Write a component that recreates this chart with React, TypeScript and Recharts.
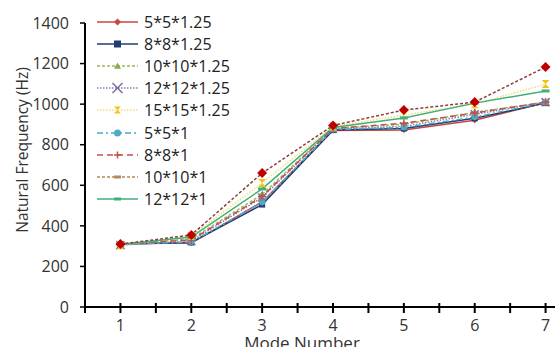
import { Line, LineChart, XAxis, YAxis } from "recharts";

const modes = [1, 2, 3, 4, 5, 6, 7];
const s5x5x125 = [312, 315, 518, 870, 872, 921, 1008];
const s8x8x125 = [310, 318, 505, 872, 880, 930, 1005];
const s10x10x125 = [310, 335, 555, 882, 900, 960, 1010];
const s12x12x125 = [305, 325, 540, 878, 890, 950, 1010];
const s15x15x125 = [305, 350, 611, 890, 946, 1000, 1099];
const s5x5x1 = [308, 320, 515, 875, 885, 936, 1008];
const s8x8x1 = [312, 330, 545, 880, 906, 956, 1010];
const s10x10x1 = [310, 355, 660, 895, 971, 1010, 1183];
const s12x12x1 = [308, 345, 582, 885, 932, 1005, 1065];

const xTicks = [0.5, 1, 1.5, 2, 2.5, 3, 3.5, 4, 4.5, 5, 5.5, 6, 6.5, 7, 7.5];
const yTicks = [0, 200, 400, 600, 800, 1000, 1200, 1400];

const FONT = "'Open Sans', sans-serif";

type Kind = "diamond" | "square" | "triangle" | "x" | "hourglass" | "circle" | "plus" | "dash";

interface Spec {
  key: string;
  name: string;
  values: number[];
  color: string;
  legendColor: string;
  dash?: string;
  kind: Kind;
  plotKind: Kind;
  plotColor: string;
  size: number;
}

// legend order
const series: Spec[] = [
  { key: "a", name: "5*5*1.25", values: s5x5x125, color: "#C8463F", legendColor: "#C8463F", kind: "diamond", plotKind: "diamond", plotColor: "#C8463F", size: 3 },
  { key: "b", name: "8*8*1.25", values: s8x8x125, color: "#1F3C73", legendColor: "#1F3C73", kind: "square", plotKind: "square", plotColor: "#1F3C73", size: 3 },
  { key: "c", name: "10*10*1.25", values: s10x10x125, color: "#9BBB59", legendColor: "#9BBB59", dash: "3 2", kind: "triangle", plotKind: "triangle", plotColor: "#8AA84E", size: 4 },
  { key: "d", name: "12*12*1.25", values: s12x12x125, color: "#8C7DB0", legendColor: "#8C7DB0", dash: "1.5 1.5", kind: "x", plotKind: "x", plotColor: "#7A6A9E", size: 4 },
  { key: "e", name: "15*15*1.25", values: s15x15x125, color: "#F2DC7A", legendColor: "#F2DC7A", dash: "1.5 1.5", kind: "hourglass", plotKind: "hourglass", plotColor: "#F2C313", size: 4 },
  { key: "f", name: "5*5*1", values: s5x5x1, color: "#4BACC6", legendColor: "#4BACC6", dash: "6 3 2 3", kind: "circle", plotKind: "circle", plotColor: "#4BACC6", size: 3 },
  { key: "g", name: "8*8*1", values: s8x8x1, color: "#C0504D", legendColor: "#C0504D", dash: "6 4", kind: "plus", plotKind: "plus", plotColor: "#C0504D", size: 4 },
  { key: "h", name: "10*10*1", values: s10x10x1, color: "#8E3F3A", legendColor: "#B08A5A", dash: "3 2", kind: "dash", plotKind: "diamond", plotColor: "#C00000", size: 5 },
  { key: "i", name: "12*12*1", values: s12x12x1, color: "#3FB07A", legendColor: "#3FB07A", kind: "dash", plotKind: "dash", plotColor: "#3FB07A", size: 4 },
];

// draw order: top series last
const drawOrder = ["a", "b", "c", "d", "f", "g", "e", "i", "h"];

const data = modes.map((m, i) => {
  const row: Record<string, number> = { mode: m };
  series.forEach((s) => {
    row[s.key] = s.values[i];
  });
  return row;
});

function marker(kind: Kind, cx: number, cy: number, color: string, r: number) {
  switch (kind) {
    case "diamond":
      return <polygon points={`${cx},${cy - r} ${cx + r},${cy} ${cx},${cy + r} ${cx - r},${cy}`} fill={color} />;
    case "square":
      return <rect x={cx - r} y={cy - r} width={r * 2} height={r * 2} fill={color} />;
    case "triangle":
      return <polygon points={`${cx},${cy - r} ${cx + r},${cy + r * 0.8} ${cx - r},${cy + r * 0.8}`} fill={color} />;
    case "x":
      return (
        <g stroke={color} strokeWidth={1.5}>
          <line x1={cx - r} y1={cy - r} x2={cx + r} y2={cy + r} />
          <line x1={cx - r} y1={cy + r} x2={cx + r} y2={cy - r} />
        </g>
      );
    case "hourglass":
      return (
        <polygon
          points={`${cx - r},${cy - r} ${cx + r},${cy - r} ${cx},${cy} ${cx + r},${cy + r} ${cx - r},${cy + r} ${cx},${cy}`}
          fill={color}
        />
      );
    case "circle":
      return <circle cx={cx} cy={cy} r={r} fill={color} />;
    case "plus":
      return (
        <g stroke={color} strokeWidth={1.5}>
          <line x1={cx - r} y1={cy} x2={cx + r} y2={cy} />
          <line x1={cx} y1={cy - r} x2={cx} y2={cy + r} />
        </g>
      );
    case "dash":
      return <rect x={cx - r} y={cy - 1.5} width={r * 2} height={3} fill={color} />;
  }
}

function XTick(props: any) {
  const { x, y, payload } = props;
  const v = payload.value as number;
  return (
    <g>
      <line x1={x} x2={x} y1={y - 15} y2={y - 5} stroke="#000" strokeWidth={2} />
      {Number.isInteger(v) && (
        <text x={x} y={y} dy={13} textAnchor="middle" fill="#333" fontSize={16} fontFamily={FONT}>
          {v}
        </text>
      )}
    </g>
  );
}

function LegendBox() {
  return (
    <div style={{ position: "absolute", left: 97, top: 11, fontFamily: FONT, fontSize: 16, color: "#222" }}>
      {series.map((s) => (
        <div key={s.key} style={{ display: "flex", alignItems: "center", height: 22.1 }}>
          <svg width={41} height={22}>
            <line x1={0} x2={41} y1={11} y2={11} stroke={s.legendColor} strokeWidth={1.5} strokeDasharray={s.dash} />
            {marker(s.kind, 20.5, 11, s.kind === "dash" ? s.legendColor : s.plotColor, s.kind === "x" ? 5 : 3.5)}
          </svg>
          <span style={{ marginLeft: 6, lineHeight: "22px" }}>{s.name}</span>
        </div>
      ))}
    </div>
  );
}

export default function App() {
  const ordered = drawOrder.map((k) => series.find((s) => s.key === k)!);
  return (
    <div style={{ position: "absolute", left: 0, top: 0, width: 555, height: 347, overflow: "hidden", background: "#fff" }}>
      <LineChart width={600} height={347} data={data} margin={{ top: 23, right: 19, left: 0, bottom: 0 }}>
        <XAxis
          dataKey="mode"
          type="number"
          domain={[0.5, 7.5]}
          ticks={xTicks}
          interval={0}
          height={40}
          tickSize={6}
          tickMargin={5}
          tickLine={false}
          axisLine={{ stroke: "#000", strokeWidth: 2 }}
          tick={<XTick />}
          label={{
            content: () => (
              <text x={302} y={349} textAnchor="middle" fill="#333" fontSize={17} fontFamily={FONT}>
                Mode Number
              </text>
            ),
          }}
        />
        <YAxis
          domain={[0, 1400]}
          ticks={yTicks}
          interval={0}
          width={85}
          tickSize={5}
          tickMargin={11}
          axisLine={{ stroke: "#000", strokeWidth: 2 }}
          tickLine={{ stroke: "#000", strokeWidth: 1.5 }}
          tick={{ fill: "#333", fontSize: 16, fontFamily: FONT }}
          label={{
            content: () => (
              <text
                x={22}
                y={150}
                transform="rotate(-90, 22, 150)"
                textAnchor="middle"
                dominantBaseline="central"
                fill="#333"
                fontSize={15.5}
                fontFamily={FONT}
              >
                Natural Frequency (Hz)
              </text>
            ),
          }}
        />
        {ordered.map((s) => (
          <Line
            key={s.key}
            dataKey={s.key}
            name={s.name}
            type="linear"
            stroke={s.color}
            strokeWidth={1.5}
            strokeDasharray={s.dash}
            isAnimationActive={false}
            activeDot={false}
            dot={(p: any) => <g key={`${s.key}-${p.index}`}>{marker(s.plotKind, p.cx, p.cy, s.plotColor, s.size)}</g>}
          />
        ))}
      </LineChart>
      <LegendBox />
    </div>
  );
}
